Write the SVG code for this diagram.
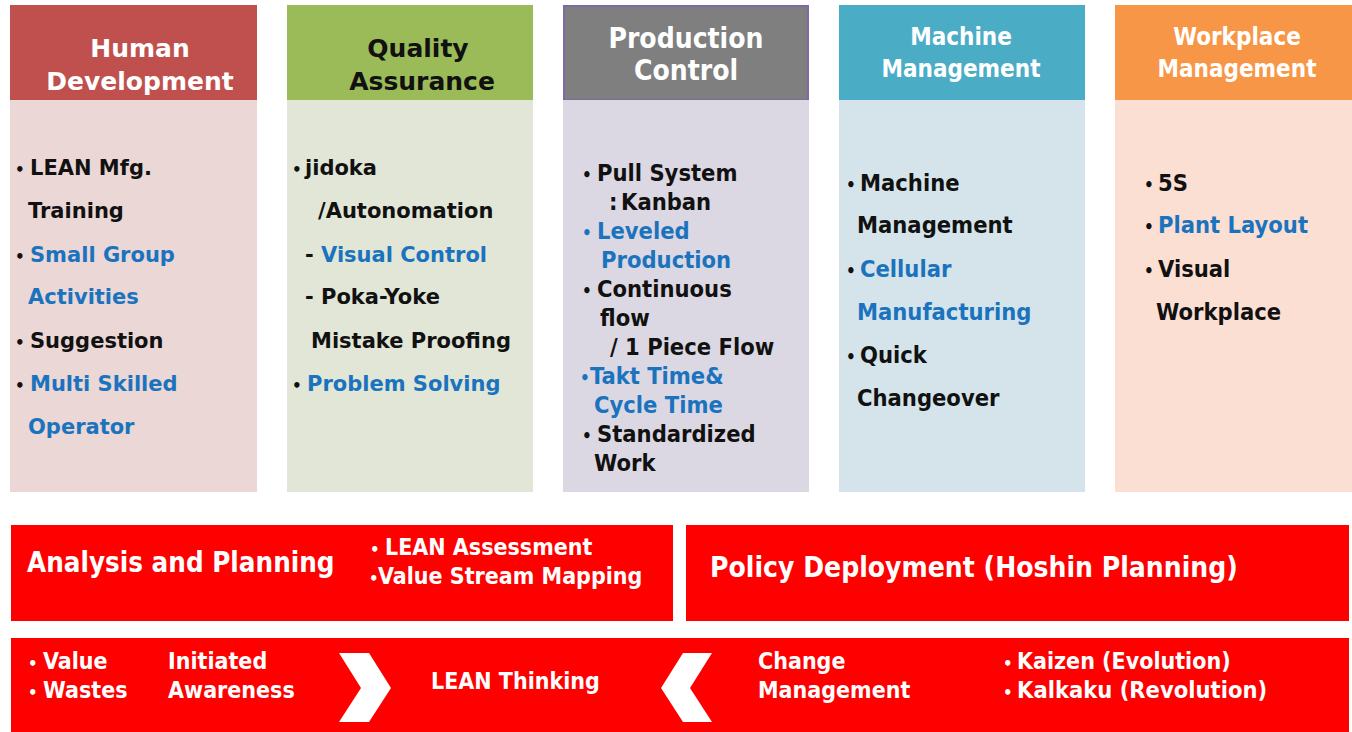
<svg xmlns="http://www.w3.org/2000/svg" width="1352" height="732" viewBox="0 0 1352 732">
<style>
.wide{font-family:"DejaVu Sans",Verdana,sans-serif;font-weight:bold}
.cond{font-family:"DejaVu Sans Condensed","DejaVu Sans",sans-serif;font-stretch:condensed;font-weight:bold}
.blk{fill:#111111}
.blu{fill:#1b73be}
.wht{fill:#ffffff}
.hd{font-size:25px;text-anchor:middle}
.hc{font-size:24px;text-anchor:middle}
.b1{font-size:21px}
.b3{font-size:23.5px}
.bt{font-size:0.72em}
.red{fill:#ff0000}
</style>
<rect width="1352" height="732" fill="#ffffff"/>

<g id="human-development">
<rect x="10" y="5" width="247" height="95" fill="#c0504d"/>
<rect x="10" y="100" width="247" height="392" fill="#ead7d6"/>
<text class="wide hd wht" x="140" y="57">Human</text>
<text class="wide hd wht" x="140" y="90">Development</text>
<g class="wide b1">
<text class="blk" x="15" y="175"><tspan class="bt">•</tspan><tspan x="30">LEAN Mfg.</tspan></text>
<text class="blk" x="28" y="218">Training</text>
<text class="blu" x="15" y="262"><tspan class="blk bt">•</tspan><tspan x="30">Small Group</tspan></text>
<text class="blu" x="28" y="304">Activities</text>
<text class="blk" x="15" y="348"><tspan class="bt">•</tspan><tspan x="30">Suggestion</tspan></text>
<text class="blu" x="15" y="391"><tspan class="blk bt">•</tspan><tspan x="30">Multi Skilled</tspan></text>
<text class="blu" x="28" y="434">Operator</text>
</g>
</g>

<g id="quality-assurance">
<rect x="287" y="5" width="246" height="95" fill="#9bbb59"/>
<rect x="287" y="100" width="246" height="392" fill="#e1e6d6"/>
<text class="wide hd blk" x="418" y="57">Quality</text>
<text class="wide hd blk" x="422" y="90">Assurance</text>
<g class="wide b1">
<text class="blk" x="292" y="175"><tspan class="bt">•</tspan><tspan x="305">jidoka</tspan></text>
<text class="blk" x="318" y="218">/Autonomation</text>
<text class="blu" x="305" y="262"><tspan class="blk">-</tspan><tspan x="321">Visual Control</tspan></text>
<text class="blk" x="305" y="304">-<tspan x="321">Poka-Yoke</tspan></text>
<text class="blk" x="311" y="348">Mistake Proofing</text>
<text class="blu" x="292" y="391"><tspan class="blk bt">•</tspan><tspan x="307">Problem Solving</tspan></text>
</g>
</g>

<g id="production-control">
<rect x="564" y="6" width="244" height="94" fill="#7f7f7f" stroke="#7d6aa3" stroke-width="2"/>
<rect x="563" y="100" width="246" height="392" fill="#dcd8e3"/>
<text class="cond wht" style="font-size:28px;text-anchor:middle" x="686" y="48">Production</text>
<text class="cond wht" style="font-size:28px;text-anchor:middle" x="686" y="80">Control</text>
<g class="cond b3">
<text class="blk" x="582" y="181"><tspan class="bt">•</tspan><tspan x="597">Pull System</tspan></text>
<text class="blk" x="609" y="210">:<tspan x="621">Kanban</tspan></text>
<text class="blu" x="582" y="239"><tspan class="bt">•</tspan><tspan x="597">Leveled</tspan></text>
<text class="blu" x="601" y="268">Production</text>
<text class="blk" x="582" y="297"><tspan class="bt">•</tspan><tspan x="597">Continuous</tspan></text>
<text class="blk" x="600" y="326">flow</text>
<text class="blk" x="610" y="355">/ 1 Piece Flow</text>
<text class="blu" x="580" y="384"><tspan class="bt">•</tspan><tspan x="590">Takt Time&amp;</tspan></text>
<text class="blu" x="594" y="413">Cycle Time</text>
<text class="blk" x="582" y="442"><tspan class="bt">•</tspan><tspan x="597">Standardized</tspan></text>
<text class="blk" x="594" y="471">Work</text>
</g>
</g>

<g id="machine-management">
<rect x="839" y="5" width="246" height="95" fill="#4bacc6"/>
<rect x="839" y="100" width="246" height="392" fill="#d4e4ea"/>
<text class="cond hc wht" x="961" y="45">Machine</text>
<text class="cond hc wht" x="961" y="77">Management</text>
<g class="cond b3">
<text class="blk" x="846" y="191"><tspan class="bt">•</tspan><tspan x="860">Machine</tspan></text>
<text class="blk" x="857" y="233">Management</text>
<text class="blu" x="846" y="277"><tspan class="blk bt">•</tspan><tspan x="860">Cellular</tspan></text>
<text class="blu" x="857" y="320">Manufacturing</text>
<text class="blk" x="846" y="363"><tspan class="bt">•</tspan><tspan x="860">Quick</tspan></text>
<text class="blk" x="857" y="406">Changeover</text>
</g>
</g>

<g id="workplace-management">
<rect x="1115" y="5" width="237" height="95" fill="#f79646"/>
<rect x="1115" y="100" width="237" height="392" fill="#fbdfd3"/>
<text class="cond hc wht" x="1237" y="45">Workplace</text>
<text class="cond hc wht" x="1237" y="77">Management</text>
<g class="cond b3">
<text class="blk" x="1144" y="191"><tspan class="bt">•</tspan><tspan x="1158">5S</tspan></text>
<text class="blu" x="1144" y="233"><tspan class="blk bt">•</tspan><tspan x="1158">Plant Layout</tspan></text>
<text class="blk" x="1144" y="277"><tspan class="bt">•</tspan><tspan x="1158">Visual</tspan></text>
<text class="blk" x="1156" y="320">Workplace</text>
</g>
</g>

<g id="analysis-planning">
<rect class="red" x="11" y="525" width="662" height="96"/>
<text class="cond wht" style="font-size:27.5px" x="27" y="572">Analysis and Planning</text>
<text class="cond wht" style="font-size:23px" x="370" y="555"><tspan class="bt">•</tspan><tspan x="385">LEAN  Assessment</tspan></text>
<text class="cond wht" style="font-size:23px" x="369" y="584"><tspan class="bt">•</tspan><tspan x="378">Value Stream Mapping</tspan></text>
</g>

<g id="policy-deployment">
<rect class="red" x="686" y="525" width="663" height="96"/>
<text class="cond wht" style="font-size:28px" x="710" y="577">Policy Deployment (Hoshin Planning)</text>
</g>

<g id="lean-thinking">
<rect class="red" x="11" y="638" width="1338" height="94"/>
<g class="cond wht" style="font-size:23px">
<text x="28" y="669"><tspan class="bt">•</tspan><tspan x="43">Value</tspan></text>
<text x="28" y="698"><tspan class="bt">•</tspan><tspan x="43">Wastes</tspan></text>
<text x="168" y="669">Initiated</text>
<text x="168" y="698">Awareness</text>
<text x="431" y="689" style="font-size:23px">LEAN Thinking</text>
<text x="758" y="669">Change</text>
<text x="758" y="698">Management</text>
<text x="1003" y="669"><tspan class="bt">•</tspan><tspan x="1017">Kaizen (Evolution)</tspan></text>
<text x="1003" y="698"><tspan class="bt">•</tspan><tspan x="1017" style="font-size:23.5px">Kalkaku (Revolution)</tspan></text>
</g>
</g>

<g id="connectors" fill="#ffffff">
<polygon points="339,653 369,653 391,688 369,722 339,722 361,688"/>
<polygon points="712,653 683,653 661,688 683,722 712,722 690,688"/>
</g>
</svg>
